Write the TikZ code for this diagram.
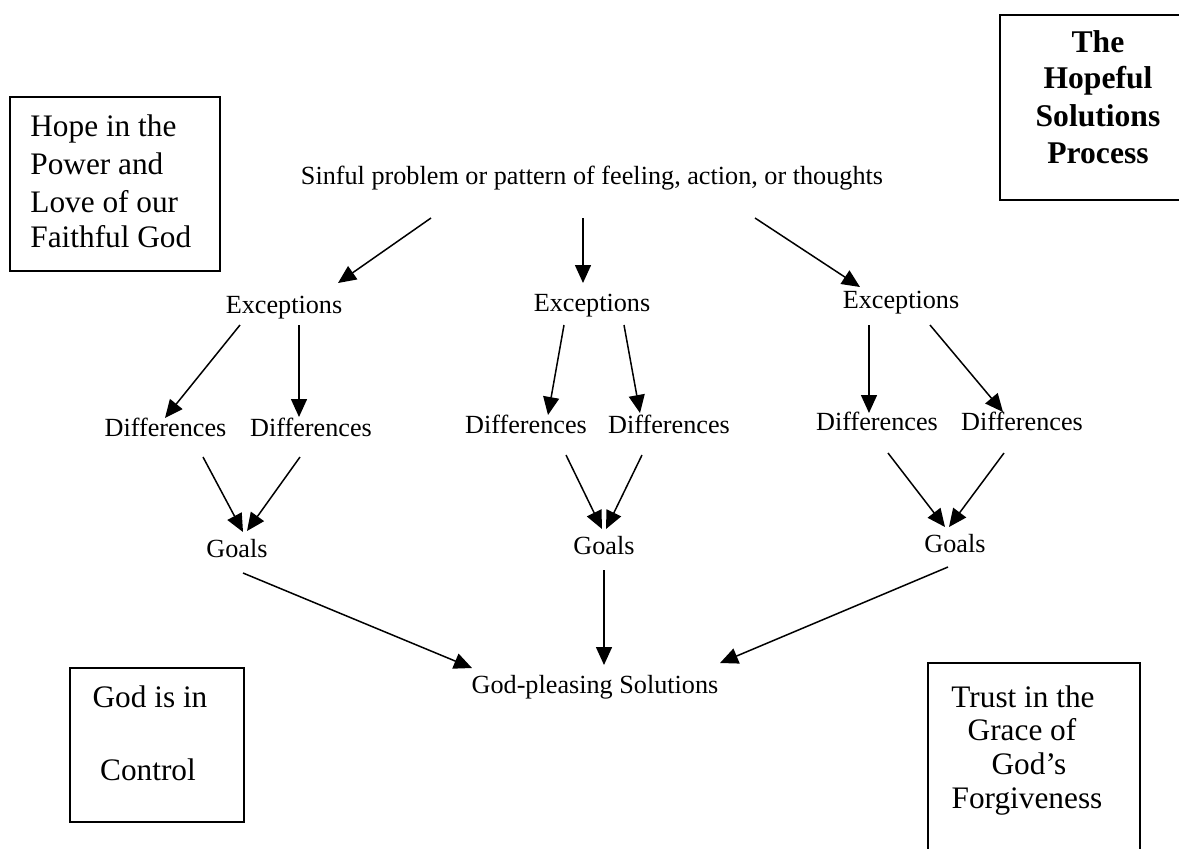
\documentclass[tikz,border=0pt]{standalone}
\usepackage{fontspec}
\setmainfont{Liberation Serif}
\usetikzlibrary{arrows.meta}
\begin{document}
\begin{tikzpicture}[x=0.5pt,y=-0.5pt,
  lbl/.style={font=\fontsize{13.1}{15}\selectfont, inner sep=0pt, anchor=base},
  boxtxt/.style={font=\fontsize{15.65}{18}\selectfont, inner sep=0pt, anchor=base},
  boxtxtl/.style={boxtxt, anchor=base west},
  titletxt/.style={font=\fontsize{15.8}{18}\selectfont\bfseries, inner sep=0pt, anchor=base},
  frame/.style={draw, line width=0.8pt},
  flow/.style={draw, line width=0.75pt, -{Triangle[length=9pt,width=8pt]}}]
\useasboundingbox (0,0) rectangle (1179,848);

% ---- framed notes ----
\draw[frame] (10,97) rectangle (220,271);
\node[boxtxtl] (hope1) at (30,136) {Hope in the};
\node[boxtxtl] (hope2) at (30,174) {Power and};
\node[boxtxtl] (hope3) at (30,212) {Love of our};
\node[boxtxtl] (hope4) at (30,247) {Faithful God};

\draw[frame] (1200,15) -- (1000,15) -- (1000,200) -- (1200,200);
\node[titletxt] (title1) at (1098,52) {The};
\node[titletxt] (title2) at (1098,88) {Hopeful};
\node[titletxt] (title3) at (1098,126) {Solutions};
\node[titletxt] (title4) at (1098,163) {Process};

\draw[frame] (70,668) rectangle (244,822);
\node[boxtxt] (ctrl1) at (150,707) {God is in};
\node[boxtxt] (ctrl2) at (148,780) {Control};

\draw[frame] (928,870) -- (928,663) -- (1140,663) -- (1140,870);
\node[boxtxt] (trust1) at (1023,707) {Trust in the};
\node[boxtxt] (trust2) at (1022,740) {Grace of};
\node[boxtxt] (trust3) at (1029,774) {God’s};
\node[boxtxt] (trust4) at (1027,808) {Forgiveness};

% ---- process labels ----
\node[lbl] (sinful) at (592,184) {Sinful problem or pattern of feeling, action, or thoughts};

\node[lbl] (excL) at (284,313) {Exceptions};
\node[lbl] (excM) at (592,311) {Exceptions};
\node[lbl] (excR) at (901,308) {Exceptions};

\node[lbl] (difL1) at (165.5,436) {Differences};
\node[lbl] (difL2) at (311,436) {Differences};
\node[lbl] (difM1) at (526,433) {Differences};
\node[lbl] (difM2) at (669,433) {Differences};
\node[lbl] (difR1) at (877,430) {Differences};
\node[lbl] (difR2) at (1022,430) {Differences};

\node[lbl] (goalL) at (237,557) {Goals};
\node[lbl] (goalM) at (604,554) {Goals};
\node[lbl] (goalR) at (955,552) {Goals};

\node[lbl] (sol) at (595,693) {God-pleasing Solutions};

% ---- connector end points ----
\coordinate (sinfulL) at (431,218);  \coordinate (excLtop) at (338,283);
\coordinate (sinfulM) at (583,218);  \coordinate (excMtop) at (583,283);
\coordinate (sinfulR) at (755,218);  \coordinate (excRtop) at (860,287);

\coordinate (excLa) at (240,325);  \coordinate (difL1top) at (165,418);
\coordinate (excLb) at (299,325);  \coordinate (difL2top) at (299,417);
\coordinate (excMa) at (564,325);  \coordinate (difM1top) at (548,415);
\coordinate (excMb) at (624,325);  \coordinate (difM2top) at (640,413);
\coordinate (excRa) at (869,325);  \coordinate (difR1top) at (869,413);
\coordinate (excRb) at (930,325);  \coordinate (difR2top) at (1003,412);

\coordinate (difL1bot) at (203,457);  \coordinate (goalLa) at (243,532);
\coordinate (difL2bot) at (300,457);  \coordinate (goalLb) at (247,531);
\coordinate (difM1bot) at (566,455);  \coordinate (goalMa) at (602,529);
\coordinate (difM2bot) at (642,455);  \coordinate (goalMb) at (606,529);
\coordinate (difR1bot) at (888,453);  \coordinate (goalRa) at (945,527);
\coordinate (difR2bot) at (1004,453); \coordinate (goalRb) at (949,527);

\coordinate (goalLbot) at (243,573);  \coordinate (solL) at (472,668);
\coordinate (goalMbot) at (604,570);  \coordinate (solM) at (604,665);
\coordinate (goalRbot) at (948,567);  \coordinate (solR) at (720,663);

% ---- connectors ----
\draw[flow] (sinfulL) -- (excLtop);
\draw[flow] (sinfulM) -- (excMtop);
\draw[flow] (sinfulR) -- (excRtop);

\draw[flow] (excLa) -- (difL1top);
\draw[flow] (excLb) -- (difL2top);
\draw[flow] (excMa) -- (difM1top);
\draw[flow] (excMb) -- (difM2top);
\draw[flow] (excRa) -- (difR1top);
\draw[flow] (excRb) -- (difR2top);

\draw[flow] (difL1bot) -- (goalLa);
\draw[flow] (difL2bot) -- (goalLb);
\draw[flow] (difM1bot) -- (goalMa);
\draw[flow] (difM2bot) -- (goalMb);
\draw[flow] (difR1bot) -- (goalRa);
\draw[flow] (difR2bot) -- (goalRb);

\draw[flow] (goalLbot) -- (solL);
\draw[flow] (goalMbot) -- (solM);
\draw[flow] (goalRbot) -- (solR);
\end{tikzpicture}
\end{document}
